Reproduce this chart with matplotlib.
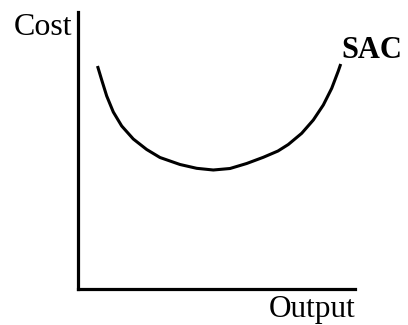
import matplotlib
matplotlib.use("Agg")
import matplotlib.pyplot as plt

# SAC curve (output, cost)
output = [7.04, 8.56, 10.36, 12.74, 15.78, 19.96, 24.8, 29.6, 36.82, 42.85, 48.84,
          54.87, 60.9, 66.9, 72.2, 75.92, 80.76, 84.95, 88.56, 91.59, 93.97, 94.84]
cost = [80.5, 75.45, 69.68, 63.9, 58.84, 54.15, 50.36, 47.47, 44.95, 43.57, 42.96,
        43.5, 45.31, 47.55, 49.82, 52.17, 56.21, 61.01, 66.43, 72.45, 78.7, 81.23]

W, H = 408, 325
fig = plt.figure(figsize=(W / 100, H / 100), dpi=100)
ax = fig.add_axes([78 / W, (H - 289) / H, 277 / W, 277 / H])
ax.plot(output, cost, color="black", lw=2.2, solid_capstyle="butt", solid_joinstyle="round")
ax.set_xlim(0, 100)
ax.set_ylim(0, 100)
for s in ["top", "right"]:
    ax.spines[s].set_visible(False)
for s in ["left", "bottom"]:
    ax.spines[s].set_linewidth(2.3)
    ax.spines[s].set_color("black")
ax.set_xticks([])
ax.set_yticks([])

font = ["Liberation Serif", "DejaVu Serif"]
fig.text(72 / W, 1 - 35 / H, "Cost", ha="right", va="baseline", fontsize=23, family=font)
fig.text(355 / W, 1 - 317 / H, "Output", ha="right", va="baseline", fontsize=22.5, family=font)
fig.text(341 / W, 1 - 58 / H, "SAC", ha="left", va="baseline", fontsize=22, fontweight="bold", family=font)

fig.savefig("out.png", dpi=100)
